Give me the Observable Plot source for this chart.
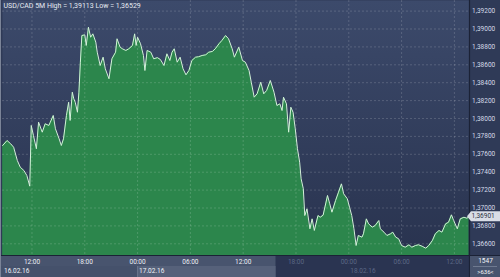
<!DOCTYPE html>
<html><head><meta charset="utf-8">
<script src="https://cdn.jsdelivr.net/npm/d3@7"></script>
<script src="https://cdn.jsdelivr.net/npm/@observablehq/plot@0.6"></script>
<style>
html,body{margin:0;padding:0;background:#2f3a57;overflow:hidden;}
svg{display:block;font-family:Roboto,"DejaVu Sans",sans-serif;}
</style>
</head><body><div id="chart"></div>
<script>
const title = "USD/CAD 5M High = 1,39113 Low = 1,36529";
const lastPrice = 1.36901;
const barsInfo = ["1547", ">636<"];
const times = [
"16 08:40","16 09:10","16 09:35","16 09:55","16 10:20","16 10:40","16 11:05","16 11:25","16 11:45","16 11:55",
"16 12:10","16 12:30","16 12:45","16 13:10","16 13:30","16 13:55","16 14:05","16 14:25","16 14:40","16 15:05",
"16 15:20","16 15:35","16 15:55","16 16:10","16 16:20","16 16:35","16 16:45","16 16:55","16 17:10","16 17:20",
"16 17:30","16 17:40","16 18:00","16 18:10","16 18:25","16 18:40","16 18:55","16 19:15","16 19:25","16 19:45",
"16 20:05","16 20:20","16 20:45","16 21:05","16 21:30","16 21:40","16 22:00","16 22:15","16 22:40","16 23:00",
"16 23:25","16 23:40","16 23:50","17 00:00","17 00:20","17 00:40","17 00:50","17 01:05","17 01:30","17 01:50",
"17 02:15","17 02:35","17 03:00","17 03:20","17 03:40","17 03:55","17 04:10","17 04:30","17 04:50","17 05:10",
"17 05:30","17 05:50","17 06:10","17 06:35","17 06:55","17 07:20","17 07:45","17 08:05","17 08:30","17 08:50",
"17 09:15","17 09:35","17 10:00","17 10:20","17 10:45","17 11:00","17 11:30","17 11:55","17 12:15","17 12:40",
"17 12:55","17 13:15","17 13:35","17 14:00","17 14:20","17 14:40","17 15:05","17 15:30","17 15:50","17 16:10",
"17 16:25","17 16:35","17 16:55","17 17:10","17 17:25","17 17:40","17 17:55","17 18:10","17 18:25","17 18:35",
"17 18:50","17 19:00","17 19:15","17 19:35","17 19:50","17 20:05","17 20:30","17 20:45","17 21:05","17 21:35",
"17 21:50","17 22:05","17 22:30","17 22:50","17 23:10","17 23:25","17 23:50","18 00:05","18 00:20","18 00:35",
"18 00:50","18 01:05","18 01:30","18 01:40","18 02:00","18 02:15","18 02:40","18 03:00","18 03:25","18 03:35",
"18 04:00","18 04:20","18 04:45","18 05:00","18 05:20","18 05:40","18 06:00","18 06:25","18 06:50","18 07:10",
"18 07:35","18 07:55","18 08:20","18 08:45","18 09:05","18 09:30","18 09:50","18 10:15","18 10:35","18 11:00",
"18 11:20","18 11:40","18 11:55","18 12:20","18 12:40","18 13:05","18 13:25","18 13:40"];
const values = [
1.37698,1.37754,1.37717,1.37679,1.37531,1.37456,1.37419,1.37363,1.37244,1.37922,
1.37810,1.37662,1.37959,1.37847,1.37941,1.37922,1.37959,1.38034,1.37885,1.37773,
1.37698,1.37773,1.38034,1.38182,1.37978,1.38294,1.38220,1.38182,1.38070,1.38294,
1.38629,1.38927,1.38935,1.38816,1.39020,1.38908,1.38946,1.38853,1.38741,1.38592,
1.38685,1.38555,1.38444,1.38667,1.38741,1.38891,1.38800,1.38780,1.38760,1.38779,
1.38816,1.38946,1.38816,1.38908,1.38835,1.38704,1.38536,1.38760,1.38741,1.38667,
1.38680,1.38660,1.38592,1.38723,1.38648,1.38741,1.38779,1.38629,1.38685,1.38555,
1.38488,1.38536,1.38648,1.38685,1.38690,1.38704,1.38712,1.38741,1.38749,1.38779,
1.38835,1.38872,1.38927,1.38891,1.38779,1.38685,1.38797,1.38648,1.38629,1.38536,
1.38406,1.38238,1.38276,1.38406,1.38276,1.38313,1.38425,1.38294,1.38145,1.38164,
1.38089,1.38238,1.38164,1.37847,1.38126,1.38070,1.37885,1.37662,1.37512,1.37326,
1.37215,1.36916,1.36991,1.36768,1.36879,1.36749,1.36916,1.36897,1.36920,1.37140,
1.37047,1.36953,1.37084,1.37177,1.37270,1.37159,1.37103,1.37009,1.36916,1.36768,
1.36581,1.36693,1.36674,1.36712,1.36879,1.36823,1.36786,1.36805,1.36860,1.36768,
1.36730,1.36693,1.36712,1.36730,1.36674,1.36656,1.36581,1.36562,1.36589,1.36562,
1.36581,1.36589,1.36573,1.36551,1.36581,1.36637,1.36712,1.36749,1.36730,1.36823,
1.36841,1.36924,1.36860,1.36768,1.36879,1.36897,1.36886,1.36901];
const yTicks = [1.392,1.390,1.388,1.386,1.384,1.382,1.380,1.378,1.376,1.374,1.372,1.370,1.368,1.366];
const xTickTimes = ["16 12:00","16 18:00","17 00:00","17 06:00","17 12:00","17 18:00","18 00:00","18 06:00","18 12:00"];
const dateLabels = [["16 08:39","16.02.16"],["17 00:00","17.02.16"],["18 00:00","18.02.16"]];
const dimFrom = "17 15:45";

const FONT = "Roboto, 'DejaVu Sans', sans-serif";
const parse = s => { const [d, hm] = s.split(" "); const [h, m] = hm.split(":").map(Number); return new Date(Date.UTC(2016, 1, +d, h, m)); };
const data = times.map((t, i) => ({t: parse(t), v: values[i]}));
const xTicks = xTickTimes.map(parse);
const dimDate = parse(dimFrom);
const xDomain = [parse("16 08:39"), parse("18 13:43")];
const yDomain = [1.364693, 1.393184];
const fmt = v => d3.format(".5f")(v).replace(".", ",");
const hm = d3.utcFormat("%H:%M");

const chart = Plot.plot({
  width: 500, height: 277,
  marginLeft: 2, marginRight: 31, marginTop: 0, marginBottom: 22,
  style: {background: "#2f3a57", fontFamily: FONT, overflow: "hidden"},
  x: {type: "utc", domain: xDomain, axis: null},
  y: {domain: yDomain, axis: null},
  marks: [
    Plot.frame({fill: "url(#navyGrad)", stroke: null}),
    Plot.areaY(data, {x: "t", y1: yDomain[0], y2: "v", fill: "#2c864c"}),
    Plot.gridX(xTicks, {stroke: "#ffffff", strokeOpacity: 0.16, strokeDasharray: "2,2"}),
    Plot.gridY(yTicks, {stroke: "#ffffff", strokeOpacity: 0.16, strokeDasharray: "2,2"}),
    Plot.lineY(data, {x: "t", y: "v", stroke: "#d3f2d9", strokeWidth: 1}),
    Plot.text(yTicks, {x: xDomain[1], y: d => d, text: fmt, dx: 2.5, textAnchor: "start", fill: "#d4dae8", fontSize: 6.5, fontFamily: FONT}),
    Plot.axisX(xTicks.filter(d => d < dimDate), {anchor: "bottom", tickSize: 0, tickPadding: 3.5, tickFormat: hm, fill: "#eef1f7", fontSize: 6.5, fontFamily: FONT}),
    Plot.axisX(xTicks.filter(d => d >= dimDate), {anchor: "bottom", tickSize: 0, tickPadding: 3.5, tickFormat: hm, fill: "#5c6886", fontSize: 6.5, fontFamily: FONT}),
    Plot.text([title], {frameAnchor: "top-left", dx: 1, dy: 2.5, fill: "#e6eaf2", fontSize: 7, fontFamily: FONT, textAnchor: "start", lineAnchor: "top"})
  ]
});

const svg = d3.select(chart);
const xs = chart.scale("x"), ys = chart.scale("y");
const px = d => xs.apply(d);
const W = 500, H = 277, plotRight = 469, plotBottom = 255;

const defs = svg.insert("defs", ":first-child");
const g = defs.append("linearGradient").attr("id", "navyGrad").attr("x1", 0).attr("x2", 0).attr("y1", 0).attr("y2", 1);
g.append("stop").attr("offset", "0%").attr("stop-color", "#3c4a6b");
g.append("stop").attr("offset", "100%").attr("stop-color", "#29334f");

// bottom panel backgrounds (inserted under marks)
const under = svg.insert("g", "defs + *");
const xDim = px(dimDate), x17 = px(parse("17 00:00"));
under.append("rect").attr("x", 0).attr("y", plotBottom).attr("width", xDim).attr("height", 11).attr("fill", "#48546e");
under.append("rect").attr("x", xDim).attr("y", plotBottom).attr("width", plotRight - xDim).attr("height", 22).attr("fill", "#2a3451");
under.append("rect").attr("x", 0).attr("y", plotBottom + 11).attr("width", x17).attr("height", 11).attr("fill", "#45516b");
under.append("rect").attr("x", x17).attr("y", plotBottom + 11).attr("width", xDim - x17).attr("height", 11).attr("fill", "#56617a");
under.append("line").attr("x1", x17 + 0.5).attr("x2", x17 + 0.5).attr("y1", plotBottom + 11).attr("y2", H).attr("stroke", "#7a849a").attr("stroke-width", 0.6);

// overlay chrome
const over = svg.append("g").attr("text-anchor", "start").attr("font-family", FONT);
over.append("line").attr("x1", 0).attr("x2", W).attr("y1", plotBottom + 0.5).attr("y2", plotBottom + 0.5).attr("stroke", "#1b2236").attr("stroke-width", 1.2);
over.append("line").attr("x1", plotRight + 0.5).attr("x2", plotRight + 0.5).attr("y1", 0).attr("y2", H).attr("stroke", "#1b2236").attr("stroke-width", 1.2);
over.append("line").attr("x1", 0.5).attr("x2", 0.5).attr("y1", 0).attr("y2", H).attr("stroke", "#7b8498").attr("stroke-width", 1);

// date labels
dateLabels.forEach(([d, lab]) => {
  const dt = parse(d);
  over.append("text").attr("x", Math.max(px(dt) + 2, 3)).attr("y", 271.5).attr("dominant-baseline", "middle")
    .attr("text-anchor", "start").attr("font-size", 6.5).attr("fill", dt >= dimDate ? "#5c6886" : "#eef1f7").text(lab);
});

// bottom-right info box
over.append("rect").attr("x", plotRight + 1).attr("y", plotBottom + 1).attr("width", W - plotRight - 1).attr("height", 21).attr("fill", "#48546e");
over.append("line").attr("x1", plotRight + 4).attr("x2", W - 3).attr("y1", 266.5).attr("y2", 266.5).attr("stroke", "#8a93a8").attr("stroke-width", 0.6);
over.append("text").attr("x", 485.5).attr("y", 261.5).attr("text-anchor", "middle").attr("dominant-baseline", "middle").attr("font-size", 6.5).attr("fill", "#f2f4f8").text(barsInfo[0]);
over.append("text").attr("x", 485.5).attr("y", 272.3).attr("text-anchor", "middle").attr("dominant-baseline", "middle").attr("font-size", 6).attr("fill", "#f2f4f8").text(barsInfo[1]);

// current price tag
const yp = ys.apply(lastPrice);
over.append("path").attr("d", `M${plotRight - 2},${yp} L${plotRight + 2},${yp - 5} L${W},${yp - 5} L${W},${yp + 5} L${plotRight + 2},${yp + 5} Z`).attr("fill", "#d9dde6");
over.append("text").attr("x", plotRight + 2.5).attr("y", yp).attr("dominant-baseline", "middle").attr("text-anchor", "start").attr("font-size", 6.5).attr("fill", "#2a3042").text(fmt(lastPrice));

document.getElementById("chart").appendChild(chart);
</script>
</body></html>
